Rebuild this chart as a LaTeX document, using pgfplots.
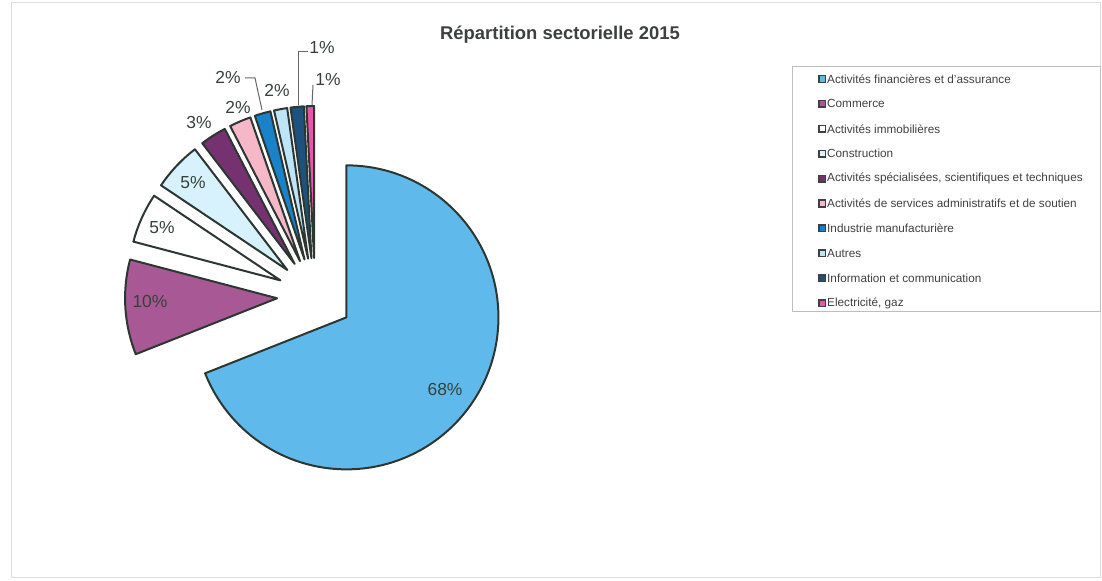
\documentclass[border=0pt]{standalone}
\usepackage{pgfplots}
\pgfplotsset{compat=1.18}
\usepackage{pgfplotstable}
\usepackage{fontspec}
\setmainfont{Liberation Sans}

\definecolor{slice0}{RGB}{95,185,235}
\definecolor{slice1}{RGB}{168,88,148}
\definecolor{slice2}{RGB}{255,255,255}
\definecolor{slice3}{RGB}{215,242,252}
\definecolor{slice4}{RGB}{118,50,112}
\definecolor{slice5}{RGB}{246,184,200}
\definecolor{slice6}{RGB}{25,130,200}
\definecolor{slice7}{RGB}{190,228,248}
\definecolor{slice8}{RGB}{28,82,125}
\definecolor{slice9}{RGB}{232,85,170}
\definecolor{edgecol}{RGB}{45,55,50}
\definecolor{labcol}{RGB}{55,65,60}
\definecolor{titlecol}{RGB}{60,64,62}
\definecolor{framecol}{RGB}{222,222,222}
\definecolor{legframe}{RGB}{190,190,190}

\expandafter\def\csname lg0\endcsname{Activités financières et d’assurance}
\expandafter\def\csname lg1\endcsname{Commerce}
\expandafter\def\csname lg2\endcsname{Activités immobilières}
\expandafter\def\csname lg3\endcsname{Construction}
\expandafter\def\csname lg4\endcsname{Activités spécialisées, scientifiques et techniques}
\expandafter\def\csname lg5\endcsname{Activités de services administratifs et de soutien}
\expandafter\def\csname lg6\endcsname{Industrie manufacturière}
\expandafter\def\csname lg7\endcsname{Autres}
\expandafter\def\csname lg8\endcsname{Information et communication}
\expandafter\def\csname lg9\endcsname{Electricité, gaz}

% value (share of the pie, %), printed percentage, label position (px)
\pgfplotstableread{
value pct lx ly
69.0 68 445 191
10.1 10 150 279
5.3  5  162 353
5.2  5  193 398
2.8  3  199 458
2.3  2  238 474
1.7  2  228 504
1.4  2  277 491
1.4  1  322 533
0.8  1  328 501
}\piedata

\begin{document}
\begin{tikzpicture}
\gdef\cum{0}
\foreach \i in {0,...,9}{%
  \pgfplotstablegetelem{\i}{value}\of\piedata
  \pgfmathsetmacro\vs{90-3.6*\cum}%
  \pgfmathsetmacro\newcum{\cum+\pgfplotsretval}%
  \pgfmathsetmacro\ve{90-3.6*\newcum}%
  \pgfmathsetmacro\vm{(\vs+\ve)/2}%
  \pgfmathsetmacro\vx{315+38*cos(\vm)}%
  \pgfmathsetmacro\vy{285+38*sin(\vm)}%
  \pgfmathsetmacro\ly{581-79-24.9*\i}%
  \expandafter\xdef\csname ps\i\endcsname{\vs}%
  \expandafter\xdef\csname pe\i\endcsname{\ve}%
  \expandafter\xdef\csname ax\i\endcsname{\vx}%
  \expandafter\xdef\csname ay\i\endcsname{\vy}%
  \expandafter\xdef\csname gy\i\endcsname{\ly}%
  \pgfplotstablegetelem{\i}{pct}\of\piedata
  \expandafter\xdef\csname pc\i\endcsname{\pgfplotsretval}%
  \pgfplotstablegetelem{\i}{lx}\of\piedata
  \expandafter\xdef\csname lx\i\endcsname{\pgfplotsretval}%
  \pgfplotstablegetelem{\i}{ly}\of\piedata
  \expandafter\xdef\csname ly\i\endcsname{\pgfplotsretval}%
  \xdef\cum{\newcum}%
}
\begin{axis}[scale only axis, width=1102bp, height=581bp,
  xmin=0, xmax=1102, ymin=0, ymax=581, hide axis, clip=false]
  \path (axis cs:0,0) rectangle (axis cs:1102,581);
  \draw[framecol, line width=1bp] (axis cs:11,3) rectangle (axis cs:1100,578);
  % title
  \node[text=titlecol, font=\fontsize{18.5}{22}\selectfont\bfseries] at (axis cs:560,546) {Répartition sectorielle 2015};
  % slices
  \pgfplotsinvokeforeach{0,...,9}{%
    \filldraw[fill=slice#1, draw=edgecol, line width=2bp, line join=round]
      (axis cs:\csname ax#1\endcsname,\csname ay#1\endcsname)
      -- ++(\csname ps#1\endcsname:152bp)
      arc[start angle=\csname ps#1\endcsname, end angle=\csname pe#1\endcsname, radius=152bp]
      -- cycle;
  }
  % leader lines
  \draw[black!60, line width=1bp] (axis cs:245,503) -- (axis cs:255,503) -- (axis cs:262,471);
  \draw[black!60, line width=1bp] (axis cs:308,529) -- (axis cs:298,529) -- (axis cs:298,476);
  \draw[black!60, line width=1bp] (axis cs:313,496) -- (axis cs:312,476);
  % data labels
  \pgfplotsinvokeforeach{0,...,9}{%
    \node[text=labcol, font=\fontsize{17.5}{20}\selectfont, inner sep=0pt]
      at (axis cs:\csname lx#1\endcsname,\csname ly#1\endcsname) {\csname pc#1\endcsname\%};
  }
  % legend
  \draw[legframe, line width=1bp] (axis cs:792,514) rectangle (axis cs:1100,269);
  \pgfplotsinvokeforeach{0,...,9}{%
    \filldraw[fill=slice#1, draw=black!75, line width=1.5bp]
      (axis cs:819,{\csname gy#1\endcsname-3.3}) rectangle (axis cs:825.5,{\csname gy#1\endcsname+3.3});
    \node[anchor=west, inner sep=0pt, text=black!75,
      font=\fontsize{11.8}{13}\selectfont] at (axis cs:827,\csname gy#1\endcsname) {\csname lg#1\endcsname};
  }
\end{axis}
\end{tikzpicture}
\end{document}
